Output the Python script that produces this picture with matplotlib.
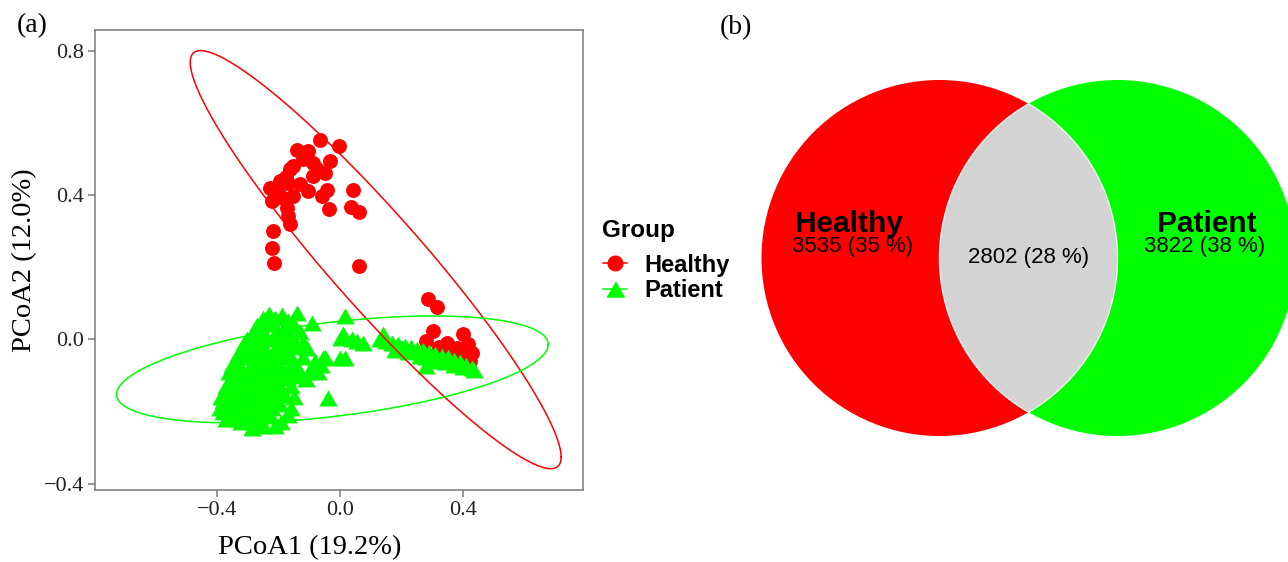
import numpy as np
import matplotlib
matplotlib.use("Agg")
import matplotlib.pyplot as plt
from matplotlib.lines import Line2D
from matplotlib.patches import Circle, Polygon

# ---------------- data ----------------
groups = ["Healthy", "Patient"]
group_colors = ["#FF0000", "#00FF00"]

healthy_x = [-0.065, -0.002, -0.139, -0.103, -0.032, -0.152, -0.087, -0.162, -0.076, -0.049,
             -0.087, -0.195, -0.168, -0.227, -0.200, -0.152, -0.103, -0.043, -0.059, 0.043,
             -0.222, -0.184, -0.173, -0.035, 0.035, 0.062, -0.168, -0.162, -0.216, -0.222,
             -0.214, 0.063, -0.120, -0.175, -0.130, -0.210,
             0.287, 0.314, 0.303, 0.400, 0.281, 0.346, 0.417, 0.379, 0.428, 0.422,
             0.320, 0.360, 0.395]
healthy_y = [0.552, 0.535, 0.524, 0.522, 0.494, 0.480, 0.489, 0.471, 0.471, 0.462,
             0.452, 0.438, 0.434, 0.420, 0.416, 0.397, 0.411, 0.413, 0.397, 0.413,
             0.383, 0.393, 0.365, 0.360, 0.368, 0.353, 0.342, 0.319, 0.300, 0.254,
             0.212, 0.203, 0.500, 0.450, 0.430, 0.405,
             0.113, 0.091, 0.023, 0.014, -0.005, -0.009, -0.014, -0.023, -0.037, -0.060,
             -0.020, -0.035, -0.045]

patient_x = [
    -0.38, -0.38, -0.38,
    -0.36, -0.36, -0.36, -0.36,
    -0.34, -0.34, -0.34, -0.34, -0.34,
    -0.32, -0.32, -0.32, -0.32, -0.32, -0.32,
    -0.30, -0.30, -0.30, -0.30, -0.30, -0.30,
    -0.28, -0.28, -0.28, -0.28, -0.28, -0.28, -0.287,
    -0.26, -0.26, -0.26, -0.26, -0.26, -0.26, -0.26,
    -0.24, -0.24, -0.24, -0.24, -0.24, -0.24, -0.24,
    -0.222, -0.22, -0.22, -0.22, -0.22, -0.22, -0.233,
    -0.20, -0.20, -0.20, -0.20, -0.206, -0.195,
    -0.189, -0.18, -0.18, -0.18, -0.173, -0.18,
    -0.16, -0.16, -0.16, -0.16,
    -0.139, -0.141, -0.14, -0.12, -0.12,
    -0.108, -0.092, -0.092, -0.10,
    -0.08, -0.054, -0.05, -0.038,
    -0.39, -0.385, -0.37, -0.35, -0.33, -0.31, -0.29, -0.27, -0.25, -0.23,
    -0.21, -0.17, -0.15, -0.15, -0.15, -0.15, -0.16, -0.17, -0.19, -0.21,
    -0.25, -0.27, -0.31, -0.35, -0.37, -0.33, -0.31, -0.29, -0.27, -0.25,
    -0.23, -0.21, -0.19, -0.17, -0.19, -0.21, -0.23, -0.25, -0.27, -0.29,
    -0.33, -0.35, -0.13, -0.11, -0.07, -0.06, -0.13,
    -0.35, -0.33, -0.31, -0.29, -0.27, -0.25, -0.23, -0.21, -0.19, -0.17,
    -0.37, -0.33, -0.29, -0.25, -0.21, -0.17, -0.23, -0.27,
    0.000, 0.005, 0.016, 0.011, 0.040, 0.054, 0.076, 0.016,
    0.130, 0.150, 0.170, 0.190, 0.210, 0.230, 0.250, 0.270, 0.290, 0.310,
    0.330, 0.350, 0.370, 0.390, 0.410, 0.430,
    0.180, 0.200, 0.220, 0.260, 0.280, 0.300, 0.320, 0.340, 0.370, 0.400,
    0.435, 0.281, 0.141]
patient_y = [
    -0.17, -0.20, -0.15,
    -0.12, -0.18, -0.21, -0.09,
    -0.06, -0.10, -0.14, -0.19, -0.22,
    -0.03, -0.08, -0.12, -0.16, -0.20, -0.23,
    0.00, -0.05, -0.09, -0.13, -0.17, -0.21,
    0.02, -0.02, -0.06, -0.11, -0.15, -0.19, -0.245,
    0.03, -0.01, -0.05, -0.09, -0.13, -0.18, -0.22,
    0.05, 0.01, -0.03, -0.08, -0.12, -0.16, -0.20,
    0.042, 0.00, -0.04, -0.10, -0.14, -0.19, -0.212,
    0.02, -0.02, -0.07, -0.12, -0.139, -0.180,
    0.069, 0.028, -0.03, -0.09, -0.106, -0.15,
    0.01, -0.05, -0.08, -0.13,
    0.072, -0.074, -0.02, -0.01, -0.05,
    -0.023, 0.046, -0.083, -0.09,
    -0.06, -0.051, -0.05, -0.162,
    -0.19, -0.16, -0.13, -0.07, -0.04, -0.01, 0.01, 0.04, 0.06, 0.07,
    0.06, 0.05, 0.04, -0.01, -0.10, -0.16, -0.19, -0.21, -0.23, -0.24,
    -0.24, -0.23, -0.22, -0.20, -0.22, -0.18, -0.14, -0.11, -0.07, -0.03,
    -0.06, -0.09, -0.05, -0.01, 0.00, -0.17, -0.14, -0.11, -0.17, -0.20,
    -0.10, -0.16, -0.09, -0.11, -0.09, -0.07, 0.02,
    -0.125, -0.075, -0.105, -0.035, -0.145, -0.065, -0.175, -0.115, -0.155, -0.045,
    -0.175, -0.155, -0.155, -0.195, -0.035, -0.085, -0.205, -0.005,
    -0.051, 0.005, 0.065, 0.014, 0.000, -0.005, -0.009, -0.051,
    0.000, -0.005, -0.010, -0.012, -0.018, -0.020, -0.026, -0.030, -0.035, -0.040,
    -0.045, -0.050, -0.056, -0.062, -0.070, -0.078,
    -0.030, -0.025, -0.035, -0.045, -0.050, -0.055, -0.060, -0.062, -0.070, -0.077,
    -0.085, -0.074, 0.014]

# 95% ellipse for each group: centre and shape matrix (sxx, syy, sxy)
ellipse_center = {"Healthy": (0.116, 0.221), "Patient": (-0.0245, -0.083)}
ellipse_shape = {"Healthy": (0.3624, 0.3352, -0.329), "Patient": (0.4907, 0.0219, 0.0483)}

x_ticks = [-0.4, 0.0, 0.4]
y_ticks = [-0.4, 0.0, 0.4, 0.8]
x_label = "PCoA1 (19.2%)"
y_label = "PCoA2 (12.0%)"

# Venn counts
venn_only = {"Healthy": 3535, "Patient": 3822}
venn_shared = 2802
venn_lens_color = "#D3D3D3"

# ---------------- figure ----------------
W, H = 1288, 562
fig = plt.figure(figsize=(W / 100, H / 100), dpi=100)
serif = ["Liberation Serif", "DejaVu Serif"]
sans = ["Liberation Sans", "DejaVu Sans"]

# ---- (a) PCoA scatter ----
ax = fig.add_axes([95 / W, 72 / H, 488 / W, 460 / H])
ax.set_xlim(-0.795, 0.789)
ax.set_ylim(-0.417, 0.857)

tri = [(-1, -0.866), (1, -0.866), (0, 0.866)]
ax.scatter(healthy_x, healthy_y, s=115, marker="o", color=group_colors[0],
           linewidths=0, zorder=2)
ax.scatter(patient_x, patient_y, s=175, marker=tri, color=group_colors[1],
           linewidths=0, zorder=3)

t = np.linspace(0, 2 * np.pi, 400)
for g, c in zip(groups, group_colors):
    cx, cy = ellipse_center[g]
    sxx, syy, sxy = ellipse_shape[g]
    L = np.linalg.cholesky(np.array([[sxx, sxy], [sxy, syy]]))
    pts = (L @ np.vstack([np.cos(t), np.sin(t)])).T + [cx, cy]
    ax.plot(pts[:, 0], pts[:, 1], color=c, lw=1.1, zorder=4)

frame_col = "#7A7A7A"
for sp in ax.spines.values():
    sp.set_color(frame_col)
    sp.set_linewidth(1.1)
ax.set_xticks(x_ticks)
ax.set_yticks(y_ticks)
ax.set_xticklabels([f"{v:.1f}".replace("-", "\u2212") for v in x_ticks], family=serif, fontsize=16)
ax.set_yticklabels([f"{v:.1f}".replace("-", "\u2212") for v in y_ticks], family=serif, fontsize=16)
ax.tick_params(direction="out", length=5, width=1.1, color=frame_col, labelcolor="#222222", pad=3)

fig.text(310 / W, 1 - 548 / H, x_label, family=serif, fontsize=20.5, ha="center", va="center")
fig.text(25 / W, 1 - 260 / H, y_label, family=serif, fontsize=20.5, ha="center", va="center",
         rotation=90)
fig.text(32 / W, 1 - 26 / H, "(a)", family=serif, fontsize=20, ha="center", va="center")

# legend: title drawn as text, entries as a legend below it
fig.text(602 / W, 1 - 231 / H, "Group", family=sans, weight="bold", fontsize=17.5,
         ha="left", va="center")
handles = [Line2D([], [], color=group_colors[0], marker="o", markersize=10.5, lw=1.1),
           Line2D([], [], color=group_colors[1], marker=tri, markersize=12.5, lw=1.1)]
fig.legend(handles, groups, loc="upper left",
           bbox_to_anchor=(603 / W, 1 - 253.5 / H), frameon=False,
           borderpad=0, borderaxespad=0, handlelength=1.0, handletextpad=0.75,
           labelspacing=0.1,
           prop={"family": sans, "weight": "bold", "size": 17})

# ---- (b) Venn diagram ----
vx0, vx1 = 740, 1288
scale = 178.0            # pixels per circle radius
ox, oy = 1028.5, 258.0   # centre of the diagram in pixels
vax = fig.add_axes([vx0 / W, 0, (vx1 - vx0) / W, 1])
vax.set_xlim((vx0 - ox) / scale, (vx1 - ox) / scale)
vax.set_ylim((oy - H) / scale, oy / scale)
vax.axis("off")

r = 1.0
d = 0.5
vax.add_patch(Circle((-d, 0), r, facecolor=group_colors[0], edgecolor="none"))
vax.add_patch(Circle((d, 0), r, facecolor=group_colors[1], edgecolor="none"))
a1 = np.linspace(np.radians(-60), np.radians(60), 100)
a2 = np.linspace(np.radians(120), np.radians(240), 100)
lens = np.vstack([np.column_stack([-d + r * np.cos(a1), r * np.sin(a1)]),
                  np.column_stack([d + r * np.cos(a2), r * np.sin(a2)])])
vax.add_patch(Polygon(lens, closed=True, facecolor=venn_lens_color, edgecolor="#F2F2F2", lw=1.0))

total = venn_only["Healthy"] + venn_only["Patient"] + venn_shared
def lab(n):
    return f"{n} ({round(100 * n / total)} %)"

vax.text(-1.008, 0.148, "Healthy", family=sans, weight="bold", fontsize=21.5,
         ha="center", va="baseline")
vax.text(-0.989, 0.035, lab(venn_only["Healthy"]), family=sans, fontsize=16,
         ha="center", va="baseline")
vax.text(1.0, 0.148, "Patient", family=sans, weight="bold", fontsize=21.5,
         ha="center", va="baseline")
vax.text(0.99, 0.035, lab(venn_only["Patient"]), family=sans, fontsize=16,
         ha="center", va="baseline")
vax.text(0.003, -0.03, lab(venn_shared), family=sans, fontsize=16,
         ha="center", va="baseline")

fig.text(736 / W, 1 - 28 / H, "(b)", family=serif, fontsize=20, ha="center", va="center")

fig.savefig("out.png", dpi=100)
